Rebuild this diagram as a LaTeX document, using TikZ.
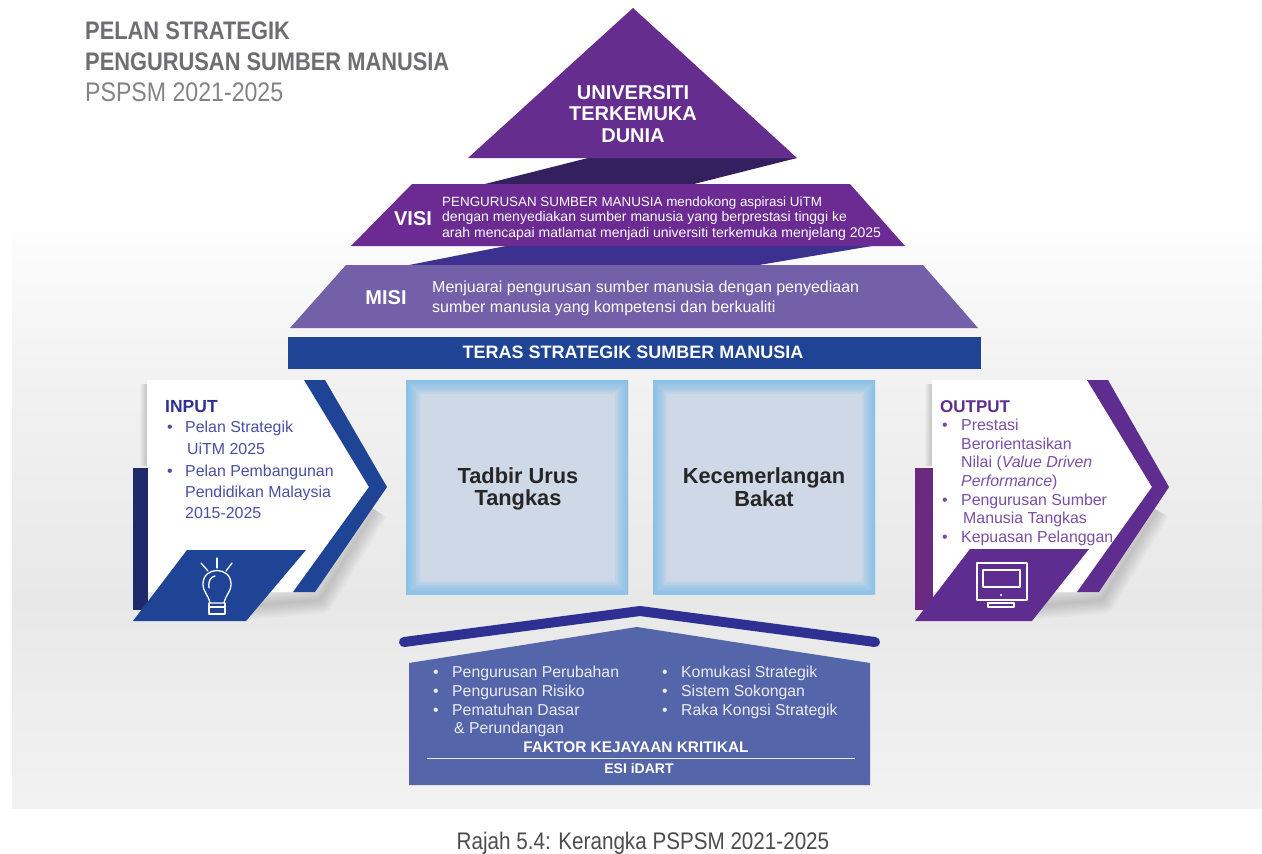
\documentclass[tikz,border=0pt]{standalone}
\usepackage{fontspec}
\usepackage{tikz}
\setmainfont{Liberation Sans}
\newfontfamily\narrowfont[FakeStretch=0.86]{Liberation Sans}
\definecolor{tripurple}{HTML}{652D8E}
\definecolor{darkpurple}{HTML}{35205F}
\definecolor{misipurple}{HTML}{7360A8}
\definecolor{joinblue}{HTML}{3D3190}
\definecolor{terasblue}{HTML}{1F4496}
\definecolor{navy}{HTML}{1F2A6B}
\definecolor{outpurple}{HTML}{5F2D8F}
\definecolor{outdark}{HTML}{6A2A80}
\definecolor{roofblue}{HTML}{2E3192}
\definecolor{houseblue}{HTML}{5565A9}
\definecolor{boxfill}{HTML}{CFD8E6}
\definecolor{boxedge}{HTML}{6DB9E8}
\definecolor{titlegray}{HTML}{6D6E71}
\definecolor{intext}{HTML}{4A4FA3}
\definecolor{outtext}{HTML}{7B4FA6}
\newcommand{\px}[1]{\fontsize{#1}{#1}\selectfont}

\begin{document}
\begin{tikzpicture}[x=1pt,y=-1pt,
	lbl/.style={inner sep=0pt, anchor=mid west},
	mid/.style={inner sep=0pt, anchor=mid},
	ctr/.style={inner sep=0pt, anchor=center, align=center},
	wlbl/.style={lbl, text=white},
	wmid/.style={mid, text=white},
	inlbl/.style={lbl, text=intext, font=\px{15.9}},
	outlbl/.style={lbl, text=outtext, font=\px{15.9}},
	houselbl/.style={wlbl, text=white!88!houseblue, font=\px{15.8}},
	icon/.style={draw=white, line width=1.3pt, line join=round, line cap=round},
	pillar/.style={draw=boxedge, line width=#1, opacity=0.14},
	shadowline/.style={draw=black, opacity=0.022, line join=round}]
\useasboundingbox (0,0) rectangle (1262,854);
\fill[white] (0,0) rectangle (1262,854);
\shade[top color=black!1, bottom color=black!5] (12,232) rectangle (1262,370);
\shade[top color=black!5, bottom color=black!9] (12,370) rectangle (1262,600);
\shade[top color=black!9, bottom color=black!5] (12,600) rectangle (1262,808);

% title
\node[lbl, text=titlegray, font=\narrowfont\bfseries\px{25.4}] (title1) at (85,37) {PELAN STRATEGIK};
\node[lbl, text=titlegray, font=\narrowfont\bfseries\px{25.4}] (title2) at (85,68) {PENGURUSAN SUMBER MANUSIA};
\node[lbl, text=titlegray!85, font=\narrowfont\px{26.9}] (title3) at (85,99) {PSPSM 2021-2025};

% pyramid
\fill[darkpurple] (588,158) -- (797,158) -- (690,185) -- (481,185) -- cycle;
\fill[joinblue] (511,245) -- (878,245) -- (753,266) -- (404,266) -- cycle;
\fill[tripurple] (633,8) -- (797,158) -- (468,158) -- cycle;
\fill[tripurple!96!magenta] (412,184) -- (850,184) -- (905,246) -- (351,246) -- cycle;
\fill[misipurple] (346,265) -- (923,265) -- (978,328) -- (290,328) -- cycle;
\fill[terasblue] (288,337) rectangle (981,369);

\node[ctr, text=white, font=\bfseries\px{20}] (puncak) at (633,114) {UNIVERSITI\\[1.5pt]TERKEMUKA\\[1.5pt]DUNIA};
\node[wmid, font=\bfseries\px{20}] (visi) at (413,223) {VISI};
\node[wlbl, font=\px{13.4}] (visi1) at (442,204) {PENGURUSAN SUMBER MANUSIA mendokong aspirasi UiTM};
\node[wlbl, font=\px{14}] (visi2) at (442,219) {dengan menyediakan sumber manusia yang berprestasi tinggi ke};
\node[wlbl, font=\px{14}] (visi3) at (442,235) {arah mencapai matlamat menjadi universiti terkemuka menjelang 2025};
\node[wmid, font=\bfseries\px{20}] (misi) at (386,302) {MISI};
\node[wlbl, font=\px{16}] (misi1) at (432,290) {Menjuarai pengurusan sumber manusia dengan penyediaan};
\node[wlbl, font=\px{16}] (misi2) at (432,310) {sumber manusia yang kompetensi dan berkualiti};
\node[wmid, font=\bfseries\px{18}] (teras) at (633,356) {TERAS STRATEGIK SUMBER MANUSIA};

% pillars
\foreach \xa/\xb in {406/628, 653/875} {
	\begin{scope}
	\clip (\xa,380) rectangle (\xb,594);
	\fill[boxfill] (\xa,380) rectangle (\xb,594);
	\foreach \w in {3,7,...,27}
		\draw[pillar=\w pt] (\xa,380) rectangle (\xb,594);
	\end{scope}
}
\node[ctr, text=black!85, font=\bfseries\px{21.8}] (tadbir) at (518,489) {Tadbir Urus\\[1pt]Tangkas};
\node[ctr, text=black!85, font=\bfseries\px{21.8}] (bakat) at (764,487) {Kecemerlangan\\[1pt]Bakat};

% input
\foreach \w in {3,7,...,27} {
	\draw[shadowline, line width=\w] (375,510) -- (320,600) -- (250,606);
	\draw[shadowline, line width=0.5*\w] (147,384) -- (147,466);
}
\fill[white] (147,380) -- (304,380) -- (369,487) -- (293,592) -- (147,592) -- cycle;
\fill[navy] (133,468) rectangle (148,610);
\fill[terasblue] (304,380) -- (325,380) -- (387,487) -- (315,592) -- (293,592) -- (369,487) -- cycle;
\fill[terasblue] (187,550) -- (306,550) -- (246,621) -- (133,621) -- cycle;
\node[lbl, text=roofblue, font=\bfseries\px{17.5}] (input) at (165,410) {INPUT};
\foreach \x/\y/\t [count=\i] in {
	167/430/•, 185/430/Pelan Strategik, 187/452/UiTM 2025,
	167/474/•, 185/474/Pelan Pembangunan, 185/495/Pendidikan Malaysia, 185/516/2015-2025}
	\node[inlbl] (input\i) at (\x,\y) {\t};
\draw[icon] (210,603) .. controls (208,594) and (203,592) .. (203,584)
	.. controls (203,566) and (231,566) .. (231,584)
	.. controls (231,592) and (226,594) .. (224,603) -- cycle;
\draw[icon] (209,603) -- (209,614) -- (225,614) -- (225,603);
\draw[icon] (209,607) -- (225,607);
\draw[icon] (209,588) .. controls (208,580) and (211,577) .. (215,576);
\draw[icon] (217,558) -- (217,568);
\draw[icon] (201,563) -- (208,571);
\draw[icon] (232,563) -- (226,571);

% output
\foreach \w in {3,7,...,27} {
	\draw[shadowline, line width=\w] (1157,510) -- (1102,600) -- (1035,606);
	\draw[shadowline, line width=0.5*\w] (932,384) -- (932,466);
}
\fill[white] (932,380) -- (1087,380) -- (1152,487) -- (1077,592) -- (932,592) -- cycle;
\fill[outdark] (915,468) rectangle (933,610);
\fill[outpurple] (1087,380) -- (1108,380) -- (1169,487) -- (1099,592) -- (1077,592) -- (1152,487) -- cycle;
\fill[outpurple] (970,549) -- (1089,549) -- (1032,621) -- (915,621) -- cycle;
\node[lbl, text=outpurple, font=\bfseries\px{17}] (output) at (940,410) {OUTPUT};
\foreach \x/\y/\t [count=\i] in {
	942/428/•, 961/428/Prestasi, 961/447/Berorientasikan,
	961/465/{Nilai (\textit{Value Driven}}, 961/484/{\textit{Performance})},
	942/503/•, 961/503/Pengurusan Sumber, 963/521/Manusia Tangkas,
	942/540/•, 961/540/Kepuasan Pelanggan}
	\node[outlbl] (output\i) at (\x,\y) {\t};
\draw[icon] (977,563) rectangle (1027,600);
\draw[icon] (983,570) rectangle (1020,587);
\draw[icon] (988,603) rectangle (1014,607);
\fill[white] (1001,595) circle (1.2);

% house
\draw[roofblue, line width=10pt, line cap=round, line join=round] (404,642) -- (640,611) -- (875,642);
\fill[houseblue] (637,627) -- (870,663) -- (870,785) -- (409,785) -- (409,663) -- cycle;
\foreach \x/\y/\t [count=\i] in {
	433/675/•, 452/675/Pengurusan Perubahan,
	433/694/•, 452/694/Pengurusan Risiko,
	433/713/•, 452/713/Pematuhan Dasar, 454/731/\& Perundangan,
	662/675/•, 681/675/Komukasi Strategik,
	662/694/•, 681/694/Sistem Sokongan,
	662/713/•, 681/713/Raka Kongsi Strategik}
	\node[houselbl] (house\i) at (\x,\y) {\t};
\node[wmid, font=\bfseries\px{15.4}] (faktor) at (636,749.5) {FAKTOR KEJAYAAN KRITIKAL};
\coordinate (ruleL) at (427,758);
\coordinate (ruleR) at (855,758);
\draw[white!85!houseblue, line width=1pt] (ruleL) -- (ruleR);
\node[wmid, font=\bfseries\px{14}] (esi) at (639,771) {ESI iDART};

\node[mid, text=black!70, font=\narrowfont\px{24}] (rajah) at (643,847) {Rajah 5.4: Kerangka PSPSM 2021-2025};
\end{tikzpicture}
\end{document}
